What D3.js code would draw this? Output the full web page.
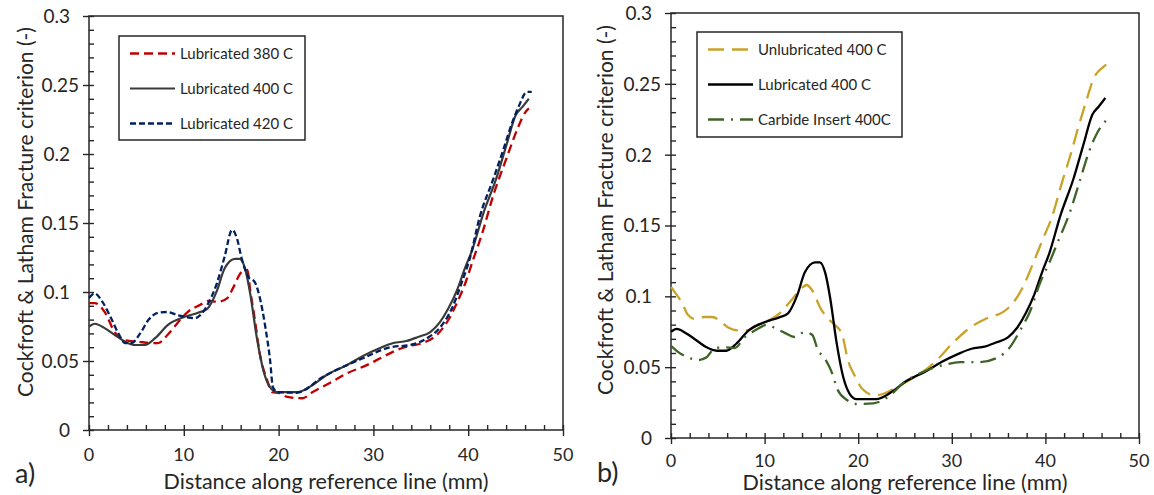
<html><head><meta charset="UTF-8"><title>Cockcroft & Latham criterion</title>
<style>
  body, html { margin: 0; padding: 0; background: #fff; overflow: hidden; }
  svg text { font-family: 'Lato', 'Open Sans', sans-serif; fill: #262626; }
</style>
</head>
<body>
<svg id="chart" width="1154" height="495"></svg>
<script src="https://d3js.org/d3.v7.min.js"></script>
<script>
// ---- data ----
const xTicks = [0, 10, 20, 30, 40, 50];
const xTickLabels = ["0", "10", "20", "30", "40", "50"];
const yTicks = [0, 0.05, 0.1, 0.15, 0.2, 0.25, 0.3];
const yTickLabels = ["0", "0.05", "0.1", "0.15", "0.2", "0.25", "0.3"];

const xTitle = "Distance along reference line (mm)";
const yTitle = "Cockfroft & Latham Fracture criterion (-)";

const namesA = ["Lubricated 380 C", "Lubricated 400 C", "Lubricated 420 C"];
const namesB = ["Unlubricated 400 C", "Lubricated 400 C", "Carbide Insert 400C"];

const lub380 = [[0,0.092],[0.6,0.092],[1.7,0.085],[2.7,0.071],[3.8,0.065],[5.2,0.064],[6.6,0.063],[7.3,0.063],[8.3,0.069],[9.4,0.078],[10.4,0.0855],[11.7,0.0906],[12.6,0.0935],[13.6,0.093],[14.6,0.0956],[15.2,0.103],[16.1,0.1145],[16.7,0.116],[17.0,0.1015],[17.5,0.0797],[18.0,0.0558],[18.8,0.036],[19.3,0.0275],[20.1,0.0268],[20.9,0.024],[22.5,0.023],[23.6,0.0275],[25.4,0.034],[27.2,0.041],[29.3,0.047],[31.0,0.053],[32.5,0.058],[33.9,0.061],[35.2,0.063],[36.7,0.069],[37.9,0.0797],[38.8,0.092],[39.7,0.1065],[40.5,0.123],[41.5,0.143],[42.6,0.169],[44.1,0.198],[45.3,0.220],[46.0,0.230],[46.4,0.233]];

const lub400 = [[0,0.075],[0.6,0.077],[1.6,0.074],[2.7,0.069],[3.8,0.064],[4.9,0.0616],[5.9,0.0616],[7.0,0.0667],[8.3,0.076],[10.1,0.082],[11.5,0.085],[12.5,0.088],[13.5,0.101],[14.3,0.117],[15.4,0.124],[15.9,0.124],[16.5,0.116],[17.0,0.099],[17.7,0.067],[18.4,0.043],[19.1,0.031],[19.8,0.0275],[22.0,0.0275],[23.6,0.0326],[25.1,0.040],[27.2,0.047],[28.9,0.0536],[30.7,0.0594],[32.1,0.063],[33.5,0.0645],[34.7,0.0674],[36.0,0.071],[37.0,0.078],[37.9,0.088],[38.8,0.101],[39.7,0.118],[40.4,0.130],[41.6,0.157],[43.0,0.183],[44.1,0.208],[45.0,0.228],[45.7,0.234],[46.4,0.240]];

const lub420 = [[0,0.0957],[0.6,0.099],[1.4,0.093],[2.4,0.080],[3.1,0.070],[3.8,0.063],[4.5,0.063],[5.4,0.070],[6.3,0.080],[7.3,0.085],[8.3,0.0855],[9.4,0.083],[10.1,0.082],[11.2,0.081],[11.7,0.083],[12.6,0.092],[13.5,0.1065],[14.3,0.1255],[15.1,0.145],[15.6,0.139],[16.1,0.1245],[16.8,0.111],[17.5,0.107],[18.0,0.0964],[18.6,0.0746],[19.1,0.0507],[19.4,0.031],[19.9,0.0275],[21.9,0.027],[24.7,0.0386],[28.9,0.052],[31.8,0.060],[33.9,0.0616],[35.7,0.0667],[37.0,0.074],[38.3,0.0884],[39.3,0.1065],[40.2,0.125],[41.2,0.154],[42.6,0.181],[43.7,0.203],[44.6,0.222],[45.3,0.234],[46.2,0.245],[46.7,0.245]];

const unlub400 = [[0,0.1066],[0.4,0.103],[1.2,0.095],[1.8,0.087],[2.6,0.084],[3.6,0.0854],[4.4,0.0854],[5.2,0.083],[6.1,0.078],[7.2,0.076],[8.2,0.076],[9.3,0.080],[10.4,0.083],[11.6,0.088],[12.7,0.096],[13.6,0.103],[14.5,0.108],[15.2,0.103],[15.9,0.0925],[16.7,0.0847],[17.5,0.080],[18.3,0.0727],[18.9,0.055],[19.7,0.043],[20.4,0.035],[21.8,0.030],[22.9,0.0318],[24.1,0.036],[25.5,0.041],[26.9,0.0466],[28.4,0.055],[30.1,0.067],[31.9,0.0776],[33.8,0.0847],[35.5,0.089],[36.5,0.095],[37.6,0.1066],[38.7,0.1235],[39.7,0.14],[40.7,0.156],[41.8,0.181],[42.6,0.198],[43.5,0.219],[44.4,0.2386],[45.1,0.253],[46.2,0.262],[46.9,0.265]];

const carbide400 = [[0,0.065],[0.7,0.061],[1.8,0.057],[2.9,0.055],[3.8,0.057],[4.7,0.0635],[5.8,0.064],[6.8,0.0635],[7.9,0.0713],[9.0,0.076],[10.3,0.080],[11.1,0.0776],[12.2,0.074],[13.2,0.0713],[14.3,0.0748],[15.1,0.0727],[15.7,0.062],[16.4,0.0565],[17.2,0.046],[17.8,0.034],[18.8,0.0268],[19.9,0.024],[21.6,0.0245],[23.4,0.030],[24.8,0.0388],[26.9,0.0466],[29.1,0.0515],[30.9,0.0536],[33.0,0.0536],[34.8,0.0565],[36.2,0.064],[37.3,0.076],[38.4,0.090],[39.4,0.109],[40.5,0.125],[41.3,0.138],[42.6,0.159],[43.7,0.182],[44.6,0.201],[45.5,0.215],[46.2,0.222],[46.9,0.2266]];

// ---- drawing ----
const svg = d3.select("#chart");

function drawPanel(p) {
  const x = d3.scaleLinear().domain([0, 50]).range([p.left, p.right]);
  const y = d3.scaleLinear().domain([0, 0.3]).range([p.bottom, p.top]);
  const g = svg.append("g");

  // plot frame
  g.append("rect")
    .attr("x", p.left).attr("y", p.top)
    .attr("width", p.right - p.left).attr("height", p.bottom - p.top)
    .attr("fill", "none").attr("stroke", "#262626").attr("stroke-width", 1.5);

  // minor ticks (inside)
  g.append("g").attr("transform", `translate(0,${p.bottom})`)
    .call(d3.axisBottom(x).tickValues(d3.range(0, 51, 2)).tickSize(-5).tickFormat(""));
  g.append("g").attr("transform", `translate(${p.left},0)`)
    .call(d3.axisLeft(y).tickValues(d3.range(0, 0.301, 0.01)).tickSize(-5).tickFormat(""));
  // major ticks (outside)
  g.append("g").attr("transform", `translate(0,${p.bottom})`)
    .call(d3.axisBottom(x).tickValues(xTicks).tickSize(6).tickFormat(""));
  g.append("g").attr("transform", `translate(${p.left},0)`)
    .call(d3.axisLeft(y).tickValues(yTicks).tickSize(6).tickFormat(""));
  g.selectAll(".domain").remove();
  g.selectAll(".tick line").attr("stroke", "#262626").attr("stroke-width", 1.4);

  // tick labels
  g.selectAll(".xlab").data(xTicks).enter().append("text")
    .attr("x", d => x(d)).attr("y", p.xlY)
    .attr("text-anchor", "middle").attr("font-size", 18)
    .text((d, i) => xTickLabels[i]);
  g.selectAll(".ylab").data(yTicks).enter().append("text")
    .attr("x", (d, i) => p.left - 10 - (yTickLabels[i].length < 4 ? 9 : 0))
    .attr("y", d => y(d)).attr("dy", "0.36em")
    .attr("text-anchor", "end").attr("font-size", 19)
    .text((d, i) => yTickLabels[i]);

  // titles
  g.append("text")
    .attr("x", (p.left + p.right) / 2).attr("y", p.xtY)
    .attr("text-anchor", "middle").attr("font-size", 21.5)
    .text(xTitle);
  g.append("text")
    .attr("transform", `translate(${p.ytX},${p.ytY}) rotate(-90)`)
    .attr("text-anchor", "middle").attr("font-size", 21)
    .text(yTitle);
  g.append("text")
    .attr("x", p.tagX).attr("y", p.tagY)
    .attr("font-size", 27)
    .text(p.tag);

  // series
  const line = d3.line().x(d => x(d[0])).y(d => y(d[1])).curve(d3.curveMonotoneX);
  p.series.forEach(s => {
    g.append("path").datum(s.data)
      .attr("d", line)
      .attr("fill", "none")
      .attr("stroke", s.color)
      .attr("stroke-width", s.width)
      .attr("stroke-dasharray", s.dash);
  });

  // legend
  const lg = g.append("g").attr("transform", `translate(${p.lx},${p.ly})`);
  lg.append("rect").attr("width", p.lw).attr("height", p.lh)
    .attr("fill", "#fff").attr("stroke", "#262626").attr("stroke-width", 1.5);
  p.series.forEach((s, i) => {
    const yy = 17.5 + i * 35;
    lg.append("line").attr("x1", 11).attr("x2", 56).attr("y1", yy).attr("y2", yy)
      .attr("stroke", s.color).attr("stroke-width", s.width).attr("stroke-dasharray", s.dash);
    lg.append("text").attr("x", 61).attr("y", yy).attr("dy", "0.36em")
      .attr("font-size", 15).text(p.names[i]);
  });
}

drawPanel({
  left: 89, right: 563, top: 16, bottom: 430,
  xlY: 461, xtY: 489, ytX: 33, ytY: 212, tag: "a)", tagX: 15, tagY: 483,
  lx: 119, ly: 36, lw: 186, lh: 104, names: namesA,
  series: [
    { data: lub380, color: "#C00000", width: 2.3, dash: "9,5" },
    { data: lub400, color: "#3a3a3a", width: 2.2, dash: null },
    { data: lub420, color: "#002060", width: 2.3, dash: "6,3" }
  ]
});

drawPanel({
  left: 671, right: 1139, top: 13, bottom: 438,
  xlY: 467, xtY: 490, ytX: 613, ytY: 210, tag: "b)", tagX: 597, tagY: 482,
  lx: 697, ly: 32, lw: 205, lh: 105, names: namesB,
  series: [
    { data: unlub400, color: "#C9A227", width: 2.3, dash: "16,8" },
    { data: lub400, color: "#000000", width: 2.3, dash: null },
    { data: carbide400, color: "#3F6428", width: 2.3, dash: "16,7,2,7" }
  ]
});
</script>
</body></html>
